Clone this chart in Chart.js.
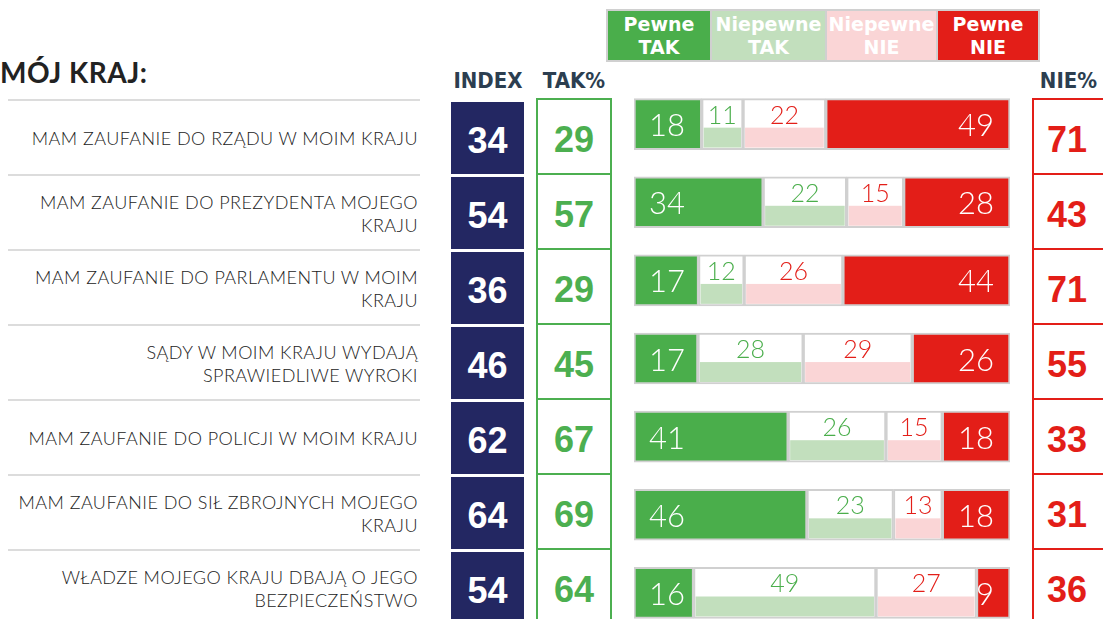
<!DOCTYPE html>
<html>
<head>
<meta charset="utf-8">
<script src="https://cdn.jsdelivr.net/npm/chart.js@4.4.1/dist/chart.umd.min.js"></script>
<style>
  body { margin: 0; width: 1103px; height: 619px; overflow: hidden; position: relative; background: #fff; font-family: Lato, "DejaVu Sans", sans-serif; }
  .abs { position: absolute; }
  #title { left: 0; top: 55px; font: 700 28px Lato, sans-serif; color: #222; letter-spacing: 0.5px; }
  .hdr { top: 68px; font: 700 22px "Liberation Sans Narrow", "DejaVu Sans Condensed", sans-serif; color: #2c3e50; text-align: center; }
  .sep { left: 8px; width: 412px; height: 2px; background: #dcdcdc; }
  .stmt { left: 0; width: 418px; height: 75px; display: flex; flex-direction: column; justify-content: center; align-items: flex-end;
          font: 300 18px Lato, sans-serif; color: #222; line-height: 23px; text-align: right; padding-top: 1px; letter-spacing: 0.45px; }
  .idx { left: 451px; width: 73px; height: 72px; background: #232762; color: #fff; display: flex; align-items: center; justify-content: center;
         font: 700 36px "Liberation Sans Narrow", sans-serif; padding-top: 6px; box-sizing: border-box; }
  .tak { left: 536px; width: 76px; height: 75px; border: 2px solid #4caf50; border-bottom: none; box-sizing: border-box; color: #4caf50;
         display: flex; align-items: center; justify-content: center; font: 700 36px "Liberation Sans Narrow", sans-serif; padding-top: 6px; }
  .nie { left: 1032px; width: 80px; height: 75px; border-top: 2px solid #e31e18; border-left: 2px solid #e31e18; box-sizing: border-box; color: #e31e18;
         display: flex; align-items: center; justify-content: center; font: 700 36px "Liberation Sans Narrow", sans-serif; padding: 6px 12px 0 0; }
  #legend { left: 606px; top: 9px; width: 434px; height: 53px; background: #d0d0d0; }
  .lg { top: 2px; height: 49px; color: #fff; display: flex; flex-direction: column; align-items: center; justify-content: center;
        font: 700 19px "DejaVu Sans", sans-serif; line-height: 23px; }
  #barWrap { left: 634px; top: 85px; width: 376px; height: 547px; }
</style>
</head>
<body>
<div id="title" class="abs">MÓJ KRAJ:</div>
<div class="abs hdr" style="left:448px;width:80px;">INDEX</div>
<div class="abs hdr" style="left:536px;width:76px;">TAK%</div>
<div class="abs hdr" style="left:1034px;width:69px;">NIE%</div>
<div id="legend" class="abs"></div>
<div id="rows"></div>
<div id="barWrap" class="abs"><canvas id="bars" width="376" height="547"></canvas></div>

<script>
const statements = [
  ['MAM ZAUFANIE DO RZĄDU W MOIM KRAJU'],
  ['MAM ZAUFANIE DO PREZYDENTA MOJEGO', 'KRAJU'],
  ['MAM ZAUFANIE DO PARLAMENTU W MOIM', 'KRAJU'],
  ['SĄDY W MOIM KRAJU WYDAJĄ', 'SPRAWIEDLIWE WYROKI'],
  ['MAM ZAUFANIE DO POLICJI W MOIM KRAJU'],
  ['MAM ZAUFANIE DO SIŁ ZBROJNYCH MOJEGO', 'KRAJU'],
  ['WŁADZE MOJEGO KRAJU DBAJĄ O JEGO', 'BEZPIECZEŃSTWO']
];
const indexValues = [34, 54, 36, 46, 62, 64, 54];
const takPercent = [29, 57, 29, 45, 67, 69, 64];
const niePercent = [71, 43, 71, 55, 33, 31, 36];

const seriesNames = [['Pewne', 'TAK'], ['Niepewne', 'TAK'], ['Niepewne', 'NIE'], ['Pewne', 'NIE']];
const pewneTak = [18, 34, 17, 17, 41, 46, 16];
const niepewneTak = [11, 22, 12, 28, 26, 23, 49];
const niepewneNie = [22, 15, 26, 29, 15, 13, 27];
const pewneNie = [49, 28, 44, 26, 18, 18, 9];

const GREEN = '#4aae4b';
const LIGHT_GREEN = '#c2dfbd';
const PINK = '#fad5d6';
const RED = '#e31e18';
const legendColors = [GREEN, LIGHT_GREEN, PINK, RED];

// legenda
const legendBox = document.getElementById('legend');
const legendCells = [[2, 102], [106, 113], [221, 109], [332, 100]];
seriesNames.forEach((n, i) => {
  const d = document.createElement('div');
  d.className = 'abs lg';
  d.style.left = legendCells[i][0] + 'px';
  d.style.width = legendCells[i][1] + 'px';
  d.style.background = legendColors[i];
  d.innerHTML = '<span>' + n[0] + '</span><span>' + n[1] + '</span>';
  legendBox.appendChild(d);
});

// wiersze tabeli
const rows = document.getElementById('rows');
statements.forEach((lines, i) => {
  const top = 100 + 75 * i;
  let h = '';
  h += '<div class="abs sep" style="top:' + (top - 1) + 'px"></div>';
  h += '<div class="abs stmt" style="top:' + top + 'px">' + lines.map(l => '<span>' + l + '</span>').join('') + '</div>';
  h += '<div class="abs idx" style="top:' + (top + 2) + 'px">' + indexValues[i] + '</div>';
  h += '<div class="abs tak" style="top:' + (top - 2) + 'px">' + takPercent[i] + '</div>';
  h += '<div class="abs nie" style="top:' + (top - 2) + 'px">' + niePercent[i] + '</div>';
  rows.insertAdjacentHTML('beforeend', h);
});

// paski
const rowTotals = pewneTak.map((v, i) => v + niepewneTak[i] + niepewneNie[i] + pewneNie[i]);
const share = arr => arr.map((v, i) => v / rowTotals[i] * 100);

const barTextPlugin = {
  id: 'barText',
  afterDatasetsDraw(chart) {
    const ctx = chart.ctx;
    ctx.save();
    chart.data.datasets.forEach((ds, di) => {
      chart.getDatasetMeta(di).data.forEach((bar, i) => {
        const p = bar.getProps(['x', 'y', 'base', 'height'], true);
        const left = Math.min(p.x, p.base), right = Math.max(p.x, p.base);
        const top = p.y - p.height / 2;
        if (ds.halfFill) {
          ctx.fillStyle = ds.halfFill;
          ctx.fillRect(left + 2, top + p.height * 0.57, right - left - 4, p.height * 0.43 - 2);
        }
        const txt = String(ds.raw[i]);
        ctx.textBaseline = 'middle';
        if (di === 0) {
          ctx.font = '300 31px Lato, sans-serif';
          ctx.fillStyle = '#fff';
          ctx.textAlign = 'right';
          ctx.fillText(txt, left + 51, p.y + 2);
        } else if (di === 3) {
          ctx.font = '300 31px Lato, sans-serif';
          ctx.fillStyle = '#fff';
          ctx.textAlign = 'right';
          ctx.fillText(txt, right - 16, p.y + 2);
        } else {
          ctx.font = '300 25px Lato, sans-serif';
          ctx.fillStyle = ds.textColor;
          ctx.textAlign = 'center';
          ctx.fillText(txt, (left + right) / 2, top + 17);
        }
      });
    });
    ctx.restore();
  }
};

const common = { borderColor: '#d0d0d0', borderWidth: 2, borderSkipped: false, barThickness: 51 };

new Chart(document.getElementById('bars'), {
  type: 'bar',
  data: {
    labels: statements.map(s => s.join(' ')),
    datasets: [
      Object.assign({ label: 'Pewne TAK', data: share(pewneTak), raw: pewneTak, backgroundColor: GREEN }, common),
      Object.assign({ label: 'Niepewne TAK', data: share(niepewneTak), raw: niepewneTak, backgroundColor: '#fff', halfFill: LIGHT_GREEN, textColor: GREEN }, common),
      Object.assign({ label: 'Niepewne NIE', data: share(niepewneNie), raw: niepewneNie, backgroundColor: '#fff', halfFill: PINK, textColor: RED }, common),
      Object.assign({ label: 'Pewne NIE', data: share(pewneNie), raw: pewneNie, backgroundColor: RED }, common)
    ]
  },
  options: {
    indexAxis: 'y',
    responsive: false,
    animation: false,
    layout: { padding: 0 },
    plugins: { legend: { display: false }, tooltip: { enabled: false } },
    scales: {
      x: { stacked: true, min: 0, max: 100, display: false },
      y: { stacked: true, display: false }
    }
  },
  plugins: [barTextPlugin]
});
</script>
</body>
</html>
